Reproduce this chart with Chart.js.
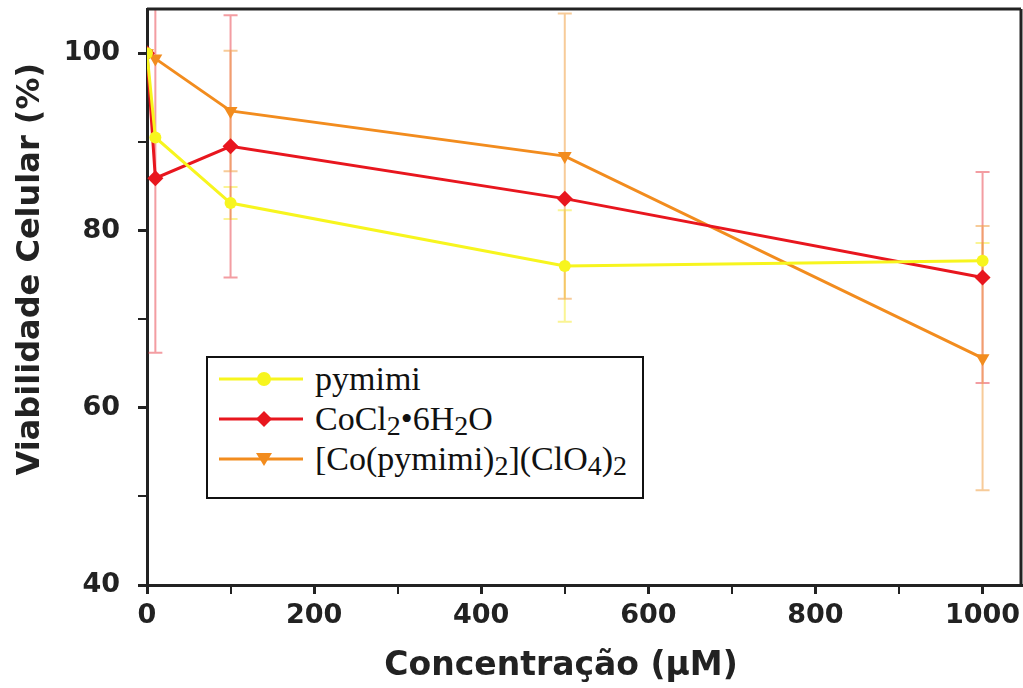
<!DOCTYPE html>
<html>
<head>
<meta charset="utf-8">
<script src="https://cdn.jsdelivr.net/npm/chart.js@4.4.0/dist/chart.umd.min.js"></script>
<style>
  html, body { margin: 0; padding: 0; background: #fff; }
  #wrap { position: relative; width: 1023px; height: 688px; }
  #legend {
    position: absolute; left: 206px; top: 356px; width: 434px; height: 139px;
    border: 2px solid #111; background: #fff;
    font-family: "Liberation Serif", "Times New Roman", serif; font-size: 34px; color: #111;
  }
  #legend .row { position: absolute; left: 0; height: 40px; display: flex; align-items: center; white-space: nowrap; }
  #legend svg { margin-left: 11px; margin-right: 12px; }
  #legend sub { font-size: 28px; vertical-align: -5px; line-height: 0; }
</style>
</head>
<body>
<div id="wrap">
  <canvas id="chart" width="1023" height="688"></canvas>
  <div id="legend"></div>
</div>
<script>
'use strict';

// concentrations (µM) and cell viability (%)
let concentrations = [0, 10, 100, 500, 1000];
let pymimi = [100, 90.5, 83.1, 76.0, 76.6];
let cocl2 = [100, 85.9, 89.5, 83.6, 74.7];
let complexCo = [100, 99.4, 93.5, 88.4, 65.6];

// error bars (±)
let pymimiErr = [0, 0, 1.8, 6.3, 2.0];
let cocl2Err = [0, 19.7, 14.8, 0, 11.9];
let complexErr = [0, 0, 6.8, 16.1, 14.9];

let xTickLabels = [0, 200, 400, 600, 800, 1000];
let yTickLabels = [40, 60, 80, 100];

let seriesNames = ['pymimi', 'CoCl<sub>2</sub>•6H<sub>2</sub>O', '[Co(pymimi)<sub>2</sub>](ClO<sub>4</sub>)<sub>2</sub>'];

function points(values) {
  return concentrations.map((c, i) => ({ x: c, y: values[i] }));
}

let series = [
  { label: 'pymimi', values: pymimi, err: pymimiErr, color: '#f7f51e', errColor: 'rgba(245,235,60,0.55)', style: 'circle', radius: 6, rot: 0 },
  { label: 'CoCl2•6H2O', values: cocl2, err: cocl2Err, color: '#e8161e', errColor: 'rgba(232,60,70,0.5)', style: 'rectRot', radius: 8, rot: 0 },
  { label: '[Co(pymimi)2](ClO4)2', values: complexCo, err: complexErr, color: '#f28c1e', errColor: 'rgba(240,160,70,0.55)', style: 'triangle', radius: 8, rot: 180 },
];

let errorBars = {
  id: 'errorBars',
  beforeDatasetsDraw(chart) {
    let ctx = chart.ctx;
    let xs = chart.scales.x, ys = chart.scales.y;
    let area = chart.chartArea;
    ctx.save();
    ctx.beginPath();
    ctx.rect(area.left, area.top, area.right - area.left, area.bottom - area.top);
    ctx.clip();
    series.forEach(s => {
      ctx.strokeStyle = s.errColor;
      ctx.lineWidth = 2;
      s.values.forEach((v, i) => {
        let e = s.err[i];
        if (!e) return;
        let x = xs.getPixelForValue(concentrations[i]);
        let y1 = ys.getPixelForValue(v + e);
        let y2 = ys.getPixelForValue(v - e);
        ctx.beginPath();
        ctx.moveTo(x, y1); ctx.lineTo(x, y2);
        ctx.moveTo(x - 7, y1); ctx.lineTo(x + 7, y1);
        ctx.moveTo(x - 7, y2); ctx.lineTo(x + 7, y2);
        ctx.stroke();
      });
    });
    ctx.restore();
  },
  afterDraw(chart) {
    let ctx = chart.ctx;
    let a = chart.chartArea;
    ctx.save();
    ctx.strokeStyle = '#222';
    ctx.lineWidth = 3;
    ctx.beginPath();
    ctx.moveTo(a.left, a.top); ctx.lineTo(a.right, a.top);
    ctx.moveTo(a.right, a.top); ctx.lineTo(a.right, a.bottom);
    ctx.stroke();
    ctx.restore();
  }
};

let tickFont = { family: 'DejaVu Sans', size: 27, weight: 'bold' };

new Chart(document.getElementById('chart'), {
  type: 'line',
  data: {
    datasets: series.map(s => ({
      label: s.label,
      data: points(s.values),
      borderColor: s.color,
      backgroundColor: s.color,
      borderWidth: 3,
      pointStyle: s.style,
      pointRadius: s.radius,
      pointRotation: s.rot,
      pointBorderWidth: 0,
      tension: 0,
    })),
  },
  options: {
    responsive: false,
    animation: false,
    devicePixelRatio: 1,
    layout: { autoPadding: false, padding: { top: 9, right: 2, left: 0, bottom: 0 } },
    plugins: { legend: { display: false }, tooltip: { enabled: false } },
    scales: {
      x: {
        type: 'linear',
        min: 0,
        max: 1046,
        afterBuildTicks: scale => {
          scale.ticks = [0, 100, 200, 300, 400, 500, 600, 700, 800, 900, 1000].map(v => ({ value: v }));
        },
        afterFit: scale => {
          scale.height = 103;
          scale.paddingLeft = 0;
          scale.paddingRight = 0;
        },
        ticks: {
          color: '#222',
          font: tickFont,
          padding: 6,
          maxRotation: 0,
          autoSkip: false,
          callback: v => xTickLabels.includes(v) ? String(v) : '',
        },
        grid: {
          drawOnChartArea: false,
          drawTicks: true,
          tickLength: 9,
          color: '#222',
          lineWidth: ctx => (ctx.tick && xTickLabels.includes(ctx.tick.value)) ? 3 : 2,
        },
        border: { display: true, color: '#222', width: 3 },
        title: {
          display: true,
          text: 'Concentração (µM)    ',
          color: '#222',
          font: { family: 'DejaVu Sans', size: 33, weight: 'bold' },
          padding: { top: 2, bottom: 2 },
        },
      },
      y: {
        min: 40,
        max: 105,
        afterBuildTicks: scale => {
          scale.ticks = [40, 50, 60, 70, 80, 90, 100].map(v => ({ value: v }));
        },
        afterFit: scale => {
          scale.width = 147;
          scale.paddingTop = 0;
          scale.paddingBottom = 0;
        },
        ticks: {
          color: '#222',
          font: tickFont,
          padding: 18,
          autoSkip: false,
          callback: v => yTickLabels.includes(v) ? String(v) : '',
        },
        grid: {
          drawOnChartArea: false,
          drawTicks: true,
          tickLength: 9,
          color: '#222',
          lineWidth: ctx => (ctx.tick && yTickLabels.includes(ctx.tick.value)) ? 3 : 2,
        },
        border: { display: true, color: '#222', width: 3 },
        title: {
          display: true,
          text: '     Viabilidade Celular (%)',
          color: '#222',
          font: { family: 'DejaVu Sans', size: 32, weight: 'bold' },
          padding: { top: 11, bottom: 4 },
        },
      },
    },
  },
  plugins: [errorBars],
});

// legend box
let legendEl = document.getElementById('legend');
series.forEach((s, i) => {
  let row = document.createElement('div');
  row.className = 'row';
  row.style.top = (1 + i * 40) + 'px';
  let marker;
  if (s.style === 'circle') marker = '<circle cx="45" cy="10" r="7" fill="' + s.color + '"/>';
  else if (s.style === 'rectRot') marker = '<polygon points="45,2 53,10 45,18 37,10" fill="' + s.color + '"/>';
  else marker = '<polygon points="37,4 53,4 45,17" fill="' + s.color + '"/>';
  row.innerHTML = '<svg width="84" height="20"><line x1="0" y1="10" x2="84" y2="10" stroke="' + s.color + '" stroke-width="3"/>' + marker + '</svg><span>' + seriesNames[i] + '</span>';
  legendEl.appendChild(row);
});
</script>
</body>
</html>
